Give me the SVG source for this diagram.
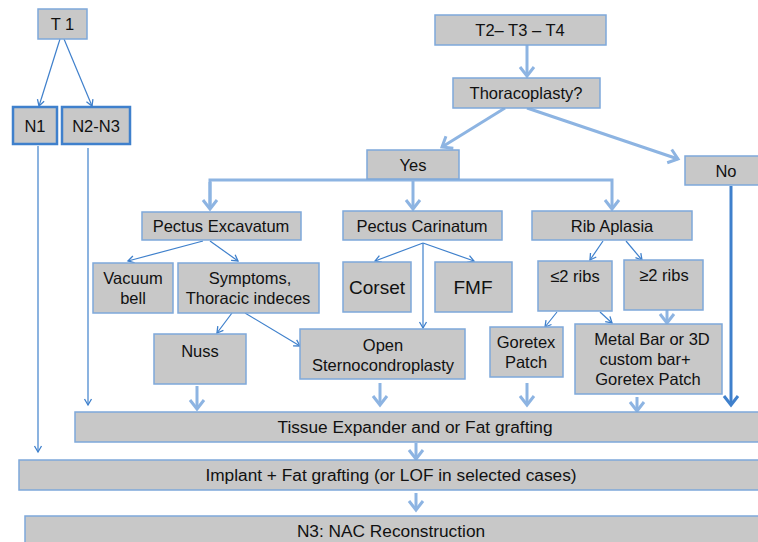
<svg xmlns="http://www.w3.org/2000/svg" width="758" height="542" viewBox="0 0 758 542">
<style>
.b{fill:#c8c8c8;stroke:#7ea8da;stroke-width:1.5}
.bd{fill:#c8c8c8;stroke:#3f80cc;stroke-width:2.5}
.t{font-family:"Liberation Sans",Arial,sans-serif;font-size:16.5px;fill:#111;text-anchor:middle}
.tl{font-size:19px}
.tb{font-size:17.3px}
.k{fill:none;stroke:#8db4e2;stroke-width:3}
.n{fill:none;stroke:#3f80cc;stroke-width:1.2}
.kd{fill:none;stroke:#3f80cc;stroke-width:3}
</style>
<defs>
<marker id="ch" markerUnits="userSpaceOnUse" markerWidth="16" markerHeight="18" viewBox="-12 -9 14 18" refX="0" refY="0" orient="auto">
<path d="M-9,-7 L0,0 L-9,7" fill="none" stroke="#8db4e2" stroke-width="3"/>
</marker>
<marker id="chd" markerUnits="userSpaceOnUse" markerWidth="16" markerHeight="18" viewBox="-12 -9 14 18" refX="0" refY="0" orient="auto">
<path d="M-9,-7 L0,0 L-9,7" fill="none" stroke="#3f80cc" stroke-width="3"/>
</marker>
<marker id="th" markerUnits="userSpaceOnUse" markerWidth="10" markerHeight="10" viewBox="-8 -5 10 10" refX="0" refY="0" orient="auto">
<path d="M-6,-3.5 L0,0 L-6,3.5" fill="none" stroke="#3f80cc" stroke-width="1.3"/>
</marker>
</defs>
<rect width="758" height="542" fill="#ffffff"/>
<g id="connectors">
<path class="n" d="M60,39 L39,106" marker-end="url(#th)"/>
<path class="n" d="M64,39 L92,106" marker-end="url(#th)"/>
<path class="n" d="M38,146 L38,452" stroke-width="1.6" marker-end="url(#th)"/>
<path class="n" d="M88,148 L88,405" marker-end="url(#th)"/>
<path class="k" d="M527,45 L527,76" marker-end="url(#ch)"/>
<path class="k" d="M505,108 L442,147" marker-end="url(#ch)"/>
<path class="k" d="M527,108 L678,159" marker-end="url(#ch)"/>
<path class="k" d="M413,179 L413,209" marker-end="url(#ch)"/>
<path class="k" d="M210,209 L210,180 L612,180 L612,209" marker-end="url(#ch)"/>
<path class="k" d="M210,182 L210,209" marker-end="url(#ch)"/>
<path class="n" d="M203,241 L128,261" marker-end="url(#th)"/>
<path class="n" d="M210,241 L238,261" marker-end="url(#th)"/>
<path class="n" d="M232,313 L217,333" marker-end="url(#th)"/>
<path class="n" d="M245,313 L300,346" marker-end="url(#th)"/>
<path class="n" d="M423,243 L375,261" marker-end="url(#th)"/>
<path class="n" d="M423,243 L474,261" marker-end="url(#th)"/>
<path class="n" d="M423,243 L423,328" marker-end="url(#th)"/>
<path class="n" d="M603,241 L590,260" marker-end="url(#th)"/>
<path class="n" d="M626,241 L642,260" marker-end="url(#th)"/>
<path class="n" d="M557,312 L545,327" marker-end="url(#th)"/>
<path class="n" d="M600,312 L612,323" marker-end="url(#th)"/>
<path class="k" d="M667,310 L667,323" marker-end="url(#ch)"/>
<path class="k" d="M197,386 L197,409" marker-end="url(#ch)"/>
<path class="k" d="M380,383 L380,405" marker-end="url(#ch)"/>
<path class="k" d="M527,383 L527,405" marker-end="url(#ch)"/>
<path class="k" d="M637,397 L637,411" marker-end="url(#ch)"/>
<path class="kd" d="M731,186 L731,405" marker-end="url(#chd)"/>
<path class="k" d="M416,443 L416,459" marker-end="url(#ch)"/>
<path class="k" d="M416,493 L416,510" marker-end="url(#ch)"/>
</g>
<g id="t1"><rect class="b" x="38" y="9" width="49" height="30"/><text class="t" x="62.5" y="30" font-size="18">T 1</text></g>
<g id="n1"><rect class="bd" x="13" y="107" width="44" height="37"/><text class="t" x="35" y="132" font-size="18">N1</text></g>
<g id="n2n3"><rect class="bd" x="62" y="107" width="68" height="37"/><text class="t" x="96" y="132" font-size="18">N2-N3</text></g>
<g id="t234"><rect class="b" x="435" y="15" width="171" height="30"/><text class="t" x="520" y="36">T2– T3 – T4</text></g>
<g id="thoraco"><rect class="b" x="453" y="78" width="147" height="30"/><text class="t" x="526" y="99">Thoracoplasty?</text></g>
<g id="yes"><rect class="b" x="367" y="150" width="92" height="29"/><text class="t" x="413" y="171">Yes</text></g>
<g id="no"><rect class="b" x="685" y="156" width="80" height="29"/><text class="t" x="726" y="177">No</text></g>
<g id="pe"><rect class="b" x="142" y="212" width="159" height="28"/><text class="t" x="221" y="232">Pectus Excavatum</text></g>
<g id="pc"><rect class="b" x="343" y="211" width="159" height="29"/><text class="t" x="422" y="232">Pectus Carinatum</text></g>
<g id="ra"><rect class="b" x="532" y="211" width="160" height="29"/><text class="t" x="612" y="232">Rib Aplasia</text></g>
<g id="vacuum"><rect class="b" x="93" y="263" width="80" height="50"/><text class="t" x="133" y="284">Vacuum</text><text class="t" x="133" y="304">bell</text></g>
<g id="symptoms"><rect class="b" x="178" y="263" width="141" height="50"/><text class="t" x="250" y="284">Symptoms,</text><text class="t" x="248" y="304">Thoracic indeces</text></g>
<g id="corset"><rect class="b" x="343" y="262" width="68" height="50"/><text class="t tl" x="377" y="294">Corset</text></g>
<g id="fmf"><rect class="b" x="435" y="262" width="77" height="50"/><text class="t tl" x="473" y="294">FMF</text></g>
<g id="le2"><rect class="b" x="538" y="261" width="74" height="50"/><text class="t" x="575" y="282">≤2 ribs</text></g>
<g id="ge2"><rect class="b" x="624" y="260" width="79" height="50"/><text class="t" x="664" y="281">≥2 ribs</text></g>
<g id="nuss"><rect class="b" x="154" y="334" width="92" height="50"/><text class="t" x="200" y="357">Nuss</text></g>
<g id="open"><rect class="b" x="300" y="329" width="165" height="50"/><text class="t" x="383" y="351">Open</text><text class="t" x="383" y="371">Sternocondroplasty</text></g>
<g id="goretex"><rect class="b" x="490" y="327" width="73" height="50"/><text class="t" x="526" y="348">Goretex</text><text class="t" x="526" y="368">Patch</text></g>
<g id="metal"><rect class="b" x="575" y="324" width="147" height="70"/><text class="t" x="652" y="345">Metal Bar or 3D</text><text class="t" x="645" y="365">custom bar+</text><text class="t" x="648" y="385">Goretex Patch</text></g>
<g id="tissue"><rect class="b" x="75" y="412" width="690" height="30"/><text class="t tb" x="415" y="433">Tissue Expander and or Fat grafting</text></g>
<g id="implant"><rect class="b" x="19" y="460" width="746" height="30"/><text class="t tb" x="391" y="481">Implant + Fat grafting (or LOF in selected cases)</text></g>
<g id="n3"><rect class="b" x="25" y="516" width="740" height="34"/><text class="t tb" x="391" y="537">N3: NAC Reconstruction</text></g>
</svg>
